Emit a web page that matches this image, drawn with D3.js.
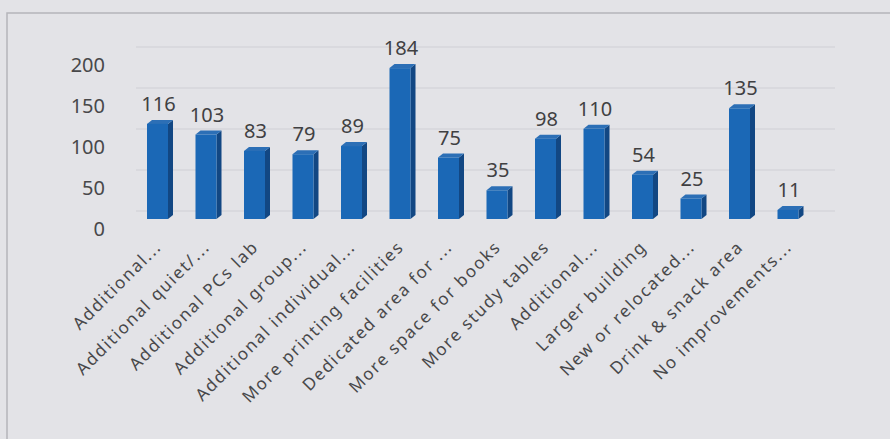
<!DOCTYPE html>
<html><head><meta charset="utf-8">
<script src="https://cdn.jsdelivr.net/npm/d3@7"></script>
<style>html,body{margin:0;padding:0;background:#e3e3e6;}svg{display:block;}</style>
</head><body>
<svg id="c" width="890" height="439"></svg>
<script>
const categories = ["Additional...", "Additional quiet/...", "Additional PCs lab", "Additional group...", "Additional individual...", "More printing facilities", "Dedicated area for ...", "More space for books", "More study tables", "Additional...", "Larger building", "New or relocated...", "Drink & snack area", "No improvements..."];
const values = [116, 103, 83, 79, 89, 184, 75, 35, 98, 110, 54, 25, 135, 11];
const yTicks = [0, 50, 100, 150, 200];

const svg = d3.select("#c");
const W = 890, H = 439;
const FONT = "Noto Sans, sans-serif";
svg.append("rect").attr("width", W).attr("height", H).attr("fill", "#e3e3e7");
// photo border
svg.append("path").attr("d", "M7,439 V13 H890").attr("fill", "none").attr("stroke", "#b5b5ba").attr("stroke-width", 1.5);

const x = d3.scaleBand().domain(d3.range(categories.length)).range([122.75, 822.75]).paddingInner(0.567).paddingOuter(0.5);
const y = d3.scaleLinear().domain([0, 200]).range([219, 55]);
const dx = 5, dy = 4;

// gridlines on back wall
const grid = svg.append("g");
yTicks.forEach(t => {
  grid.append("line").attr("x1", 136).attr("x2", 835).attr("y1", y(t) - 8).attr("y2", y(t) - 8)
    .attr("stroke", "#d0d0d5").attr("stroke-width", 1.2);
});

// y axis labels (3D offset: labels sit lower than the bars' scale)
const yAxis = d3.axisLeft(y).tickValues(yTicks).tickSize(0).tickPadding(0);
const ga = svg.append("g").attr("transform", "translate(105,10)").call(yAxis);
ga.select(".domain").remove();
ga.selectAll("text").attr("font-family", FONT).attr("font-size", 20).attr("fill", "#48484a");

// bars
const g = svg.append("g");
values.forEach((v, i) => {
  const x0 = x(i), w = x.bandwidth(), yt = y(v), yb = y(0);
  g.append("path").attr("d", `M${x0 + w},${yt} L${x0 + w + dx},${yt - dy} L${x0 + w + dx},${yb - dy} L${x0 + w},${yb} Z`).attr("fill", "#124783");
  g.append("path").attr("d", `M${x0},${yt} L${x0 + dx},${yt - dy} L${x0 + w + dx},${yt - dy} L${x0 + w},${yt} Z`).attr("fill", "#2c6fb6");
  g.append("rect").attr("x", x0).attr("y", yt).attr("width", w).attr("height", yb - yt).attr("fill", "#1b68b6");
  g.append("text").attr("x", x0 + w / 2 + 1).attr("y", yt - 13).attr("text-anchor", "middle")
    .attr("font-family", FONT).attr("font-size", 20).attr("fill", "#404042").text(v);
});

// x axis labels
const xa = svg.append("g");
categories.forEach((c, i) => {
  const cx = x(i) + x.bandwidth() / 2 + 5;
  xa.append("text").attr("transform", `translate(${cx},248) rotate(-45)`).attr("text-anchor", "end")
    .attr("font-family", FONT).attr("font-size", 17).attr("letter-spacing", 1.7).attr("fill", "#48484a").text(c);
});
</script>
</body></html>
